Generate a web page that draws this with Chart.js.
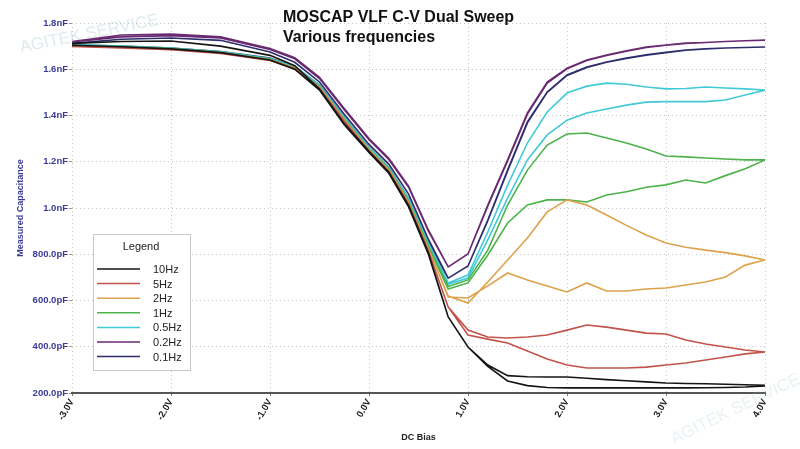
<!DOCTYPE html>
<html>
<head>
<meta charset="utf-8">
<title>MOSCAP VLF C-V Dual Sweep</title>
<script src="https://cdn.jsdelivr.net/npm/chart.js@4.4.1/dist/chart.umd.min.js"></script>
<style>
	html, body { margin: 0; padding: 0; background: #ffffff; }
	#wrap { width: 800px; height: 449px; position: relative; }
</style>
</head>
<body>
<div id="wrap"><canvas id="cv-chart"></canvas></div>
<script>
// ── Data (capacitance in pF, bias in V) ─────────────────────
const biases = [ -3.0, -2.5, -2.0, -1.5, -1.0, -0.75, -0.5, -0.25, 0.0, 0.2, 0.4, 0.6, 0.8,
	1.0, 1.2, 1.4, 1.6, 1.8, 2.0, 2.2, 2.4, 2.6, 2.8, 3.0, 3.2, 3.4, 3.6, 3.8, 4.0 ];

const freqLabels = [ '10Hz', '5Hz', '2Hz', '1Hz', '0.5Hz', '0.2Hz', '0.1Hz' ];

const c10HzFwd = [ 1704, 1697, 1688, 1672, 1640, 1600, 1510, 1360, 1240, 1150, 1005, 800, 529,
	399, 321, 275, 270, 269, 269, 264, 258, 253, 248, 243, 241, 240, 238, 236, 233 ];
const c10HzRev = [ 1712, 1720, 1722, 1700, 1660, 1615, 1515, 1365, 1245, 1155, 1010, 805, 529,
	399, 315, 252, 232, 224, 222, 222, 222, 222, 222, 222, 222, 223, 224, 226, 230 ];

const c5HzFwd = [ 1700, 1693, 1685, 1669, 1639, 1602, 1518, 1376, 1246, 1160, 1018, 815, 572,
	472, 442, 438, 442, 451, 472, 494, 485, 472, 459, 455, 429, 412, 399, 386, 377 ];
const c5HzRev = [ 1699, 1692, 1684, 1668, 1638, 1601, 1516, 1374, 1244, 1158, 1015, 812, 572,
	451, 433, 416, 382, 347, 321, 308, 308, 308, 312, 321, 330, 343, 356, 369, 377 ];

const c2HzFwd = [ 1702, 1695, 1687, 1671, 1641, 1605, 1522, 1382, 1252, 1165, 1024, 825, 615,
	611, 663, 719, 689, 663, 637, 676, 641, 641, 650, 654, 667, 680, 702, 753, 775 ];
const c2HzRev = [ 1701, 1694, 1686, 1670, 1640, 1604, 1521, 1380, 1250, 1163, 1022, 822, 619,
	589, 680, 775, 870, 983, 1035, 1013, 970, 925, 883, 849, 830, 818, 807, 793, 775 ];

const c1HzFwd = [ 1704, 1697, 1689, 1673, 1643, 1607, 1525, 1385, 1255, 1170, 1030, 835, 660,
	689, 818, 1013, 1164, 1272, 1320, 1324, 1303, 1281, 1255, 1225, 1221, 1216, 1212, 1208, 1208 ];
const c1HzRev = [ 1703, 1696, 1688, 1672, 1642, 1606, 1524, 1384, 1254, 1168, 1028, 832, 650,
	676, 797, 935, 1013, 1035, 1035, 1026, 1056, 1070, 1090, 1100, 1121, 1108, 1140, 1170, 1208 ];

const c05HzFwd = [ 1708, 1700, 1692, 1676, 1646, 1612, 1532, 1392, 1262, 1176, 1040, 848, 676,
	710, 896, 1099, 1281, 1415, 1497, 1527, 1540, 1535, 1523, 1515, 1517, 1523, 1519, 1515, 1510 ];
const c05HzRev = [ 1706, 1698, 1690, 1674, 1644, 1609, 1528, 1388, 1258, 1172, 1034, 840, 670,
	697, 862, 1043, 1208, 1316, 1380, 1411, 1428, 1445, 1458, 1460, 1460, 1460, 1467, 1489, 1510 ];

const c02HzFwd = [ 1720, 1748, 1752, 1740, 1690, 1650, 1565, 1430, 1300, 1215, 1095, 905, 745,
	801, 1013, 1208, 1411, 1545, 1605, 1640, 1662, 1680, 1696, 1705, 1713, 1716, 1720, 1723, 1726 ];
const c02HzRev = [ 1718, 1740, 1745, 1735, 1685, 1645, 1560, 1425, 1295, 1210, 1090, 900, 745,
	801, 1008, 1203, 1406, 1540, 1602, 1638, 1660, 1678, 1694, 1704, 1712, 1716, 1720, 1723, 1726 ];

const c01HzFwd = [ 1712, 1730, 1735, 1725, 1675, 1630, 1545, 1405, 1275, 1190, 1060, 865, 697,
	749, 948, 1164, 1372, 1502, 1575, 1610, 1631, 1648, 1662, 1673, 1683, 1688, 1692, 1694, 1696 ];
const c01HzRev = [ 1705, 1700, 1692, 1677, 1648, 1612, 1532, 1392, 1262, 1176, 1040, 850, 697,
	749, 945, 1160, 1368, 1500, 1573, 1608, 1630, 1647, 1661, 1672, 1682, 1688, 1692, 1694, 1696 ];

const sweeps = [
	[ c10HzFwd, c10HzRev ],
	[ c5HzFwd, c5HzRev ],
	[ c2HzFwd, c2HzRev ],
	[ c1HzFwd, c1HzRev ],
	[ c05HzFwd, c05HzRev ],
	[ c02HzFwd, c02HzRev ],
	[ c01HzFwd, c01HzRev ],
];

const yTicks = [ 200, 400, 600, 800, 1000, 1200, 1400, 1600, 1800 ];
const xTicks = [ -3, -2, -1, 0, 1, 2, 3, 4 ];

// ── Palette ─────────────────────────────────────────────────
const lineColors = [ '#151515', '#c2534c', '#dca24c', '#4cb24a', '#42c9d8', '#6a2a72', '#2e2e6e' ];
const axisBlue = '#3a3a96';
const gridGray = '#c6c6c6';

// forward sweep then back again, as one path per frequency
const dualSweep = ( fwd, rev ) =>
	biases.map( ( v, k ) => ( { x: v, y: fwd[ k ] } ) )
		.concat( biases.map( ( v, k ) => ( { x: v, y: rev[ k ] } ) ).reverse() );

const fmtCap = ( v ) => ( v >= 1000 ? ( v / 1000 ).toFixed( 1 ) + 'nF' : v.toFixed( 1 ) + 'pF' );

const titleAndLegend = {
	id: 'titleAndLegend',
	afterDraw( chart ) {
		const { ctx } = chart;
		ctx.save();

		// title, sits inside the plot
		ctx.fillStyle = '#111111';
		ctx.font = 'bold 16px "Liberation Sans", Arial, sans-serif';
		ctx.textAlign = 'left';
		ctx.textBaseline = 'middle';
		ctx.fillText( 'MOSCAP VLF C-V Dual Sweep', 283, 18 );
		ctx.fillText( 'Various frequencies', 283, 38 );

		// legend box
		const bx = 93, by = 234, bw = 97, bh = 136;
		ctx.fillStyle = '#ffffff';
		ctx.fillRect( bx, by, bw, bh );
		ctx.strokeStyle = '#c8c8c8';
		ctx.lineWidth = 1;
		ctx.strokeRect( bx + 0.5, by + 0.5, bw, bh );

		ctx.fillStyle = '#222222';
		ctx.font = '11px "Liberation Sans", Arial, sans-serif';
		ctx.textAlign = 'center';
		ctx.fillText( 'Legend', bx + 48, by + 13 );

		ctx.textAlign = 'left';
		chart.data.datasets.forEach( ( ds, i ) => {
			const y = by + 35 + i * 14.6;
			ctx.strokeStyle = ds.borderColor;
			ctx.lineWidth = 1.5;
			ctx.beginPath();
			ctx.moveTo( bx + 4, y );
			ctx.lineTo( bx + 47, y );
			ctx.stroke();
			ctx.fillStyle = '#222222';
			ctx.fillText( ds.label, bx + 60, y + 1 );
		} );

		// faint watermarks
		ctx.globalAlpha = 0.3;
		ctx.fillStyle = '#8fbcc4';
		ctx.font = '17px "Liberation Sans", Arial, sans-serif';
		ctx.translate( 20, 48 );
		ctx.rotate( -0.2 );
		ctx.fillText( 'AGITEK SERVICE', 0, 0 );
		ctx.setTransform( 1, 0, 0, 1, 0, 0 );
		ctx.globalAlpha = 0.2;
		ctx.translate( 672, 440 );
		ctx.rotate( -0.45 );
		ctx.fillText( 'AGITEK SERVICE', 0, 0 );
		ctx.restore();
	},
};

new Chart( document.getElementById( 'cv-chart' ), {
	type: 'line',
	data: {
		datasets: freqLabels.map( ( label, i ) => ( {
			label,
			data: dualSweep( sweeps[ i ][ 0 ], sweeps[ i ][ 1 ] ),
			borderColor: lineColors[ i ],
			borderWidth: 1.6,
			pointRadius: 0,
			tension: 0,
			fill: false,
		} ) ),
	},
	options: {
		responsive: true,
		maintainAspectRatio: false,
		animation: false,
		devicePixelRatio: 1,
		layout: { padding: { left: 0, right: 35, top: 23, bottom: 0 } },
		plugins: {
			legend: { display: false },
			tooltip: { enabled: false },
		},
		scales: {
			x: {
				type: 'linear',
				min: xTicks[ 0 ],
				max: xTicks[ xTicks.length - 1 ],
				afterBuildTicks: ( scale ) => {
					scale.ticks = xTicks.map( ( v ) => ( { value: v } ) );
				},
				afterFit: ( scale ) => {
					scale.height = 56;
					scale.paddingLeft = 0;
					scale.paddingRight = 0;
				},
				grid: { color: gridGray, lineWidth: 1, tickLength: 3, tickColor: '#777' },
				border: { display: true, color: '#555555', width: 2, dash: [ 1, 3 ] },
				ticks: {
					minRotation: 60,
					maxRotation: 60,
					padding: 1,
					color: '#222222',
					font: { family: '"Liberation Sans", Arial, sans-serif', size: 9.5, weight: 'bold' },
					callback: ( v ) => Number( v ).toFixed( 1 ) + 'V',
				},
				title: {
					display: true,
					text: 'DC Bias',
					color: '#222222',
					padding: { top: 0, bottom: 6 },
					font: { family: '"Liberation Sans", Arial, sans-serif', size: 9, weight: 'bold' },
				},
			},
			y: {
				min: yTicks[ 0 ],
				max: yTicks[ yTicks.length - 1 ],
				afterBuildTicks: ( scale ) => {
					scale.ticks = yTicks.map( ( v ) => ( { value: v } ) );
				},
				afterFit: ( scale ) => {
					scale.width = 72;
					scale.paddingTop = 0;
					scale.paddingBottom = 0;
				},
				grid: { color: gridGray, lineWidth: 1, tickLength: 3, tickColor: '#999' },
				border: { display: false, dash: [ 1, 3 ] },
				ticks: {
					padding: 1,
					color: axisBlue,
					font: { family: '"Liberation Sans", Arial, sans-serif', size: 9.5, weight: 'bold' },
					callback: ( v ) => fmtCap( Number( v ) ),
				},
				title: {
					display: true,
					text: 'Measured Capacitance',
					color: axisBlue,
					padding: { top: 15, bottom: 0 },
					font: { family: '"Liberation Sans", Arial, sans-serif', size: 9, weight: 'bold' },
				},
			},
		},
	},
	plugins: [ titleAndLegend ],
} );
</script>
</body>
</html>
